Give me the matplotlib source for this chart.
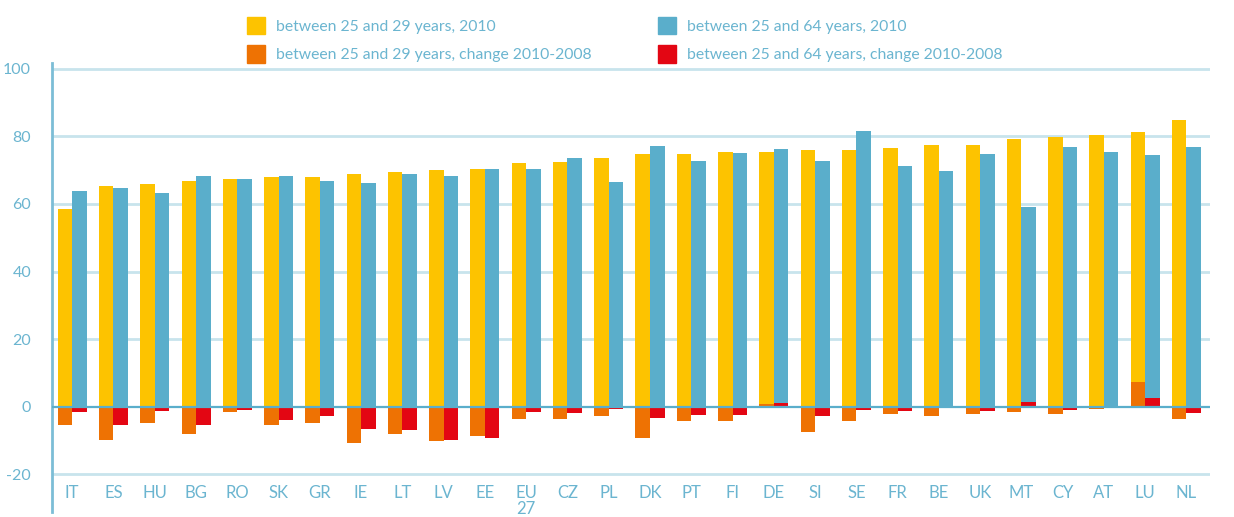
import numpy as np
import matplotlib.pyplot as plt
from matplotlib.patches import Patch

countries = ["IT", "ES", "HU", "BG", "RO", "SK", "GR", "IE", "LT", "LV", "EE", "EU\n27",
             "CZ", "PL", "DK", "PT", "FI", "DE", "SI", "SE", "FR", "BE", "UK", "MT",
             "CY", "AT", "LU", "NL"]

# employment rate 2010
y25_29 = [58.5, 65.3, 65.9, 66.8, 67.4, 68.0, 68.0, 68.8, 69.4, 70.2, 70.3, 72.1,
          72.4, 73.6, 74.7, 74.7, 75.3, 75.3, 75.9, 76.1, 76.7, 77.3, 77.3, 79.1,
          79.7, 80.3, 81.2, 84.8]
y25_64 = [63.8, 64.7, 63.2, 68.2, 67.4, 68.2, 66.8, 66.2, 68.8, 68.2, 70.3, 70.3,
          73.6, 66.5, 77.1, 72.7, 75.0, 76.2, 72.7, 81.5, 71.1, 69.9, 74.7, 59.0,
          77.0, 75.5, 74.4, 77.0]
# change 2010-2008
d25_29 = [-5.4, -9.9, -4.8, -8.1, -1.6, -5.4, -4.8, -10.7, -8.1, -10.2, -8.7, -3.6,
          -3.6, -2.7, -9.3, -4.2, -4.2, 0.7, -7.5, -4.2, -2.2, -2.7, -2.2, -1.6,
          -2.2, -0.7, 7.3, -3.6]
d25_64 = [-1.6, -5.4, -1.3, -5.4, -1.0, -3.9, -2.7, -6.6, -6.9, -9.9, -9.3, -1.6,
          -1.9, -0.6, -3.3, -2.4, -2.4, 1.1, -2.7, -1.0, -1.3, 0.0, -1.3, 1.4,
          -1.0, 0.0, 2.6, -1.9]

labels = ["between 25 and 29 years, 2010", "between 25 and 29 years, change 2010-2008",
          "between 25 and 64 years, 2010", "between 25 and 64 years, change 2010-2008"]

yellow = "#FDC300"
blue = "#5AAECB"
orange = "#EE7203"
red = "#E30613"
txt = "#6BB5D0"
grid = "#C8E4EC"

plt.rcParams['font.family'] = ['Lato', 'DejaVu Sans']

fig = plt.figure(figsize=(12.34, 5.17), dpi=100)
ax = fig.add_axes([52 / 1234, 1 - 512 / 517, (1210 - 52) / 1234, (512 - 63) / 517])

x = np.arange(len(countries))
w = 0.352

for g in [20, 40, 60, 80, 100, -20]:
    ax.axhline(g, color=grid, lw=2, zorder=0)

ax.bar(x - w / 2, y25_29, w, color=yellow, zorder=2)
ax.bar(x + w / 2, y25_64, w, color=blue, zorder=2)
ax.bar(x - w / 2, d25_29, w, color=orange, zorder=3)
ax.bar(x + w / 2, d25_64, w, color=red, zorder=3)
ax.axhline(0, color=blue, lw=1.6, zorder=4)

ax.set_xlim(-0.49, 27.57)
ax.set_ylim(-31.1, 101.7)
ax.set_xticks([])
ax.set_yticks([-20, 0, 20, 40, 60, 80, 100])
ax.set_yticklabels(["-20", "0", "20", "40", "60", "80", "100"])
ax.tick_params(axis='y', length=0, pad=15, labelsize=11.5, labelcolor=txt)
for s in ["top", "right", "bottom"]:
    ax.spines[s].set_visible(False)
ax.spines["left"].set_color("#7CBDD6")
ax.spines["left"].set_linewidth(2)

# country labels inside the axes, below the -20 line
for i, c in enumerate(countries):
    if "\n" in c:
        ax.text(i, -23.2, c, ha="center", va="top", fontsize=12, color=txt,
                linespacing=1.0)
    else:
        ax.text(i, -25.5, c, ha="center", va="center", fontsize=12, color=txt)

# legend: two columns placed separately
h = [Patch(color=yellow), Patch(color=orange), Patch(color=blue), Patch(color=red)]
opts = dict(frameon=False, loc="upper left", fontsize=11.3, labelcolor=txt,
            handlelength=1.15, handleheight=1.3, handletextpad=0.7,
            labelspacing=0.72, borderaxespad=0, borderpad=0)
fig.legend(h[:2], labels[:2], bbox_to_anchor=(247 / 1234, 1 - 17 / 517), **opts)
fig.legend(h[2:], labels[2:], bbox_to_anchor=(658 / 1234, 1 - 17 / 517), **opts)

fig.savefig("out.png", dpi=100)
